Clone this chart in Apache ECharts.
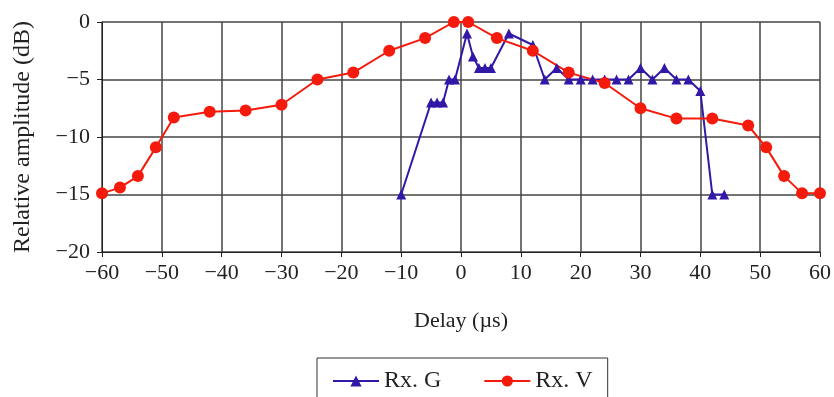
<!DOCTYPE html>
<html>
<head>
<meta charset="utf-8">
<script src="https://cdn.jsdelivr.net/npm/echarts@6/dist/echarts.min.js"></script>
<style>
  html, body { margin: 0; padding: 0; background: #fff; }
  #main { width: 834px; height: 397px; }
</style>
</head>
<body>
<div id="main"></div>
<script>
  // values
  var rxGDelay = [-10, -5, -4, -3, -2, -1, 1, 2, 3, 4, 5, 8, 12, 14, 16, 18, 20, 22, 24, 26, 28, 30, 32, 34, 36, 38, 40, 42, 44];
  var rxGAmp = [-15, -7, -7, -7, -5, -5, -1, -3, -4, -4, -4, -1, -2, -5, -4, -5, -5, -5, -5, -5, -5, -4, -5, -4, -5, -5, -6, -15, -15];

  var rxVDelay = [-60, -57, -54, -51, -48, -42, -36, -30, -24, -18, -12, -6, -1.2, 1.2, 6, 12, 18, 24, 30, 36, 42, 48, 51, 54, 57, 60];
  var rxVAmp = [-14.9, -14.4, -13.4, -10.9, -8.3, -7.8, -7.7, -7.2, -5.0, -4.4, -2.5, -1.4, 0, 0, -1.4, -2.5, -4.4, -5.3, -7.5, -8.4, -8.4, -9.0, -10.9, -13.4, -14.9, -14.9];

  var seriesNames = ['Rx. G', 'Rx. V'];

  function pairs(xs, ys) {
    return xs.map(function (x, i) { return [x, ys[i]]; });
  }
  function minus(v) {
    return String(v).replace('-', '\u2212');
  }

  var font = 'Liberation Serif';
  var txt = '#222';

  var myChart = echarts.init(document.getElementById('main'));
  var option = {
    animation: false,
    textStyle: { fontFamily: font },
    grid: { left: 102, right: 12, top: 22, bottom: 145 },
    legend: {
      data: seriesNames,
      left: 317,
      top: 358,
      padding: [11, 15, 11, 15],
      itemWidth: 46,
      itemHeight: 14,
      itemGap: 42,
      borderColor: '#333',
      borderWidth: 1,
      textStyle: { fontFamily: font, fontSize: 24, color: txt }
    },
    xAxis: {
      type: 'value',
      min: -60,
      max: 60,
      interval: 10,
      name: 'Delay (\u00b5s)',
      nameLocation: 'middle',
      nameGap: 58,
      nameTextStyle: { fontFamily: font, fontSize: 22, color: txt },
      axisLine: { onZero: false, lineStyle: { color: '#222', width: 1 } },
      axisTick: { show: true, length: 5, lineStyle: { color: '#222' } },
      axisLabel: { margin: 10, fontFamily: font, fontSize: 22, color: txt, formatter: minus },
      splitLine: { show: true, lineStyle: { color: '#444', width: 1.5 } }
    },
    yAxis: {
      type: 'value',
      min: -20,
      max: 0,
      interval: 5,
      name: 'Relative amplitude (dB)',
      nameLocation: 'middle',
      nameGap: 67,
      nameTextStyle: { fontFamily: font, fontSize: 24, color: txt },
      axisLine: { show: true, onZero: false, lineStyle: { color: '#222', width: 1 } },
      axisTick: { show: true, length: 5, lineStyle: { color: '#222' } },
      axisLabel: { margin: 12, fontFamily: font, fontSize: 22, color: txt, formatter: minus },
      splitLine: { show: true, lineStyle: { color: '#444', width: 1.5 } }
    },
    series: [
      {
        name: seriesNames[0],
        type: 'line',
        clip: false,
        data: pairs(rxGDelay, rxGAmp),
        symbol: 'triangle',
        symbolSize: 10,
        color: '#3318a8',
        lineStyle: { width: 2 }
      },
      {
        name: seriesNames[1],
        type: 'line',
        clip: false,
        data: pairs(rxVDelay, rxVAmp),
        symbol: 'circle',
        symbolSize: 12,
        color: '#f41a0c',
        lineStyle: { width: 2 }
      }
    ]
  };
  myChart.setOption(option);
</script>
</body>
</html>
